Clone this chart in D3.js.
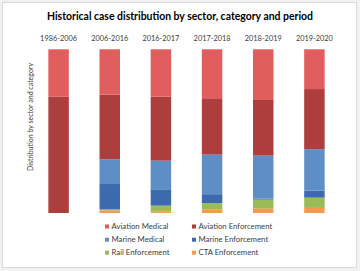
<!DOCTYPE html>
<html><head><meta charset="utf-8">
<script src="https://cdn.jsdelivr.net/npm/d3@7"></script>
<style>html,body{margin:0;padding:0;background:#f2f2f2;}svg{display:block;}</style>
</head><body><svg id="c" width="360" height="271"></svg>
<script>
const periods = ["1986-2006","2006-2016","2016-2017","2017-2018","2018-2019","2019-2020"];
const seriesNames = ["Aviation Medical","Aviation Enforcement","Marine Medical","Marine Enforcement","Rail Enforcement","CTA Enforcement"];
const aviationMedical     = [29.0, 27.7, 29.0, 30.4, 31.0, 24.3];
const aviationEnforcement = [71.0, 39.5, 39.1, 34.0, 34.0, 36.8];
const marineMedical       = [0, 15.1, 17.5, 24.2, 26.3, 25.3];
const marineEnforcement   = [0, 15.5, 10.0, 5.5, 0.6, 4.3];
const railEnforcement     = [0, 0.6, 3.7, 3.7, 5.3, 6.3];
const ctaEnforcement      = [0, 1.6, 0.8, 2.3, 2.9, 3.1];
const colors = ["#E05E5E","#AC3E3D","#5D8EC6","#3D69AE","#9BBB59","#F59A4E"];

const FONT = "Lato, 'Open Sans', sans-serif";
function fit(sel, target){ const n = sel.node(); const fs = parseFloat(sel.attr("font-size")); const w = n.getComputedTextLength(); if (w>0) sel.attr("font-size", (fs*target/w).toFixed(2)+"px"); return sel; }

const svg = d3.select("#c");
svg.append("rect").attr("x",2.5).attr("y",2.5).attr("width",354).attr("height",265)
  .attr("fill","#fff").attr("stroke","#d9d9d9");

const values = [aviationMedical, aviationEnforcement, marineMedical, marineEnforcement, railEnforcement, ctaEnforcement];
const rows = periods.map((p,i)=>{const r={period:p}; seriesNames.forEach((s,j)=>r[s]=values[j][i]); return r;});
const order = seriesNames.slice().reverse();
const stack = d3.stack().keys(order).offset(d3.stackOffsetExpand)(rows);

const x = d3.scaleBand().domain(periods).range([33, 340]).paddingInner(0.6).paddingOuter(0.3);
const y = d3.scaleLinear().domain([0,1]).range([213, 49.3]);

svg.append("g").selectAll("g").data(stack).join("g")
  .attr("fill", d => colors[seriesNames.indexOf(d.key)])
  .selectAll("rect").data(d=>d).join("rect")
  .attr("x", d=>x(d.data.period)).attr("width", x.bandwidth())
  .attr("y", d=>y(d[1])).attr("height", d=>Math.max(0, y(d[0])-y(d[1])));

const ax = svg.append("g").attr("transform","translate(0,40.5)")
  .call(d3.axisTop(x).tickSize(0).tickPadding(0));
ax.select(".domain").remove();
ax.selectAll("text").attr("font-family",FONT).attr("font-size","8px").attr("fill","#404040");
const lab0 = ax.select("text"); fit(lab0, 37);
ax.selectAll("text").attr("font-size", lab0.attr("font-size"));

const title = svg.append("text").attr("x",180).attr("y",19.5).attr("text-anchor","middle")
  .attr("font-family",FONT).attr("font-weight","bold").attr("font-size","10px").attr("fill","#000")
  .text("Historical case distribution by sector, category and period");
fit(title, 266);

const yt = svg.append("text").attr("transform","translate(32.5,117) rotate(-90)").attr("text-anchor","middle")
  .attr("font-family",FONT).attr("font-size","7px").attr("fill","#404040")
  .text("Distribution by sector and category");
fit(yt, 108);

const legX = [105, 192], legY = [226.5, 239.7, 252.7];
const leg = svg.append("g").selectAll("g").data(seriesNames).join("g")
  .attr("transform",(d,i)=>`translate(${legX[i%2]},${legY[Math.floor(i/2)]})`);
leg.append("rect").attr("x",0).attr("y",-2).attr("width",4).attr("height",4).attr("fill",(d,i)=>colors[i]);
const lt = leg.append("text").attr("x",6.5).attr("y",2.7).attr("font-family",FONT).attr("font-size","8px").attr("fill","#404040").text(d=>d);
fit(d3.select(lt.nodes()[0]), 57);
lt.attr("font-size", d3.select(lt.nodes()[0]).attr("font-size"));
</script></body></html>
